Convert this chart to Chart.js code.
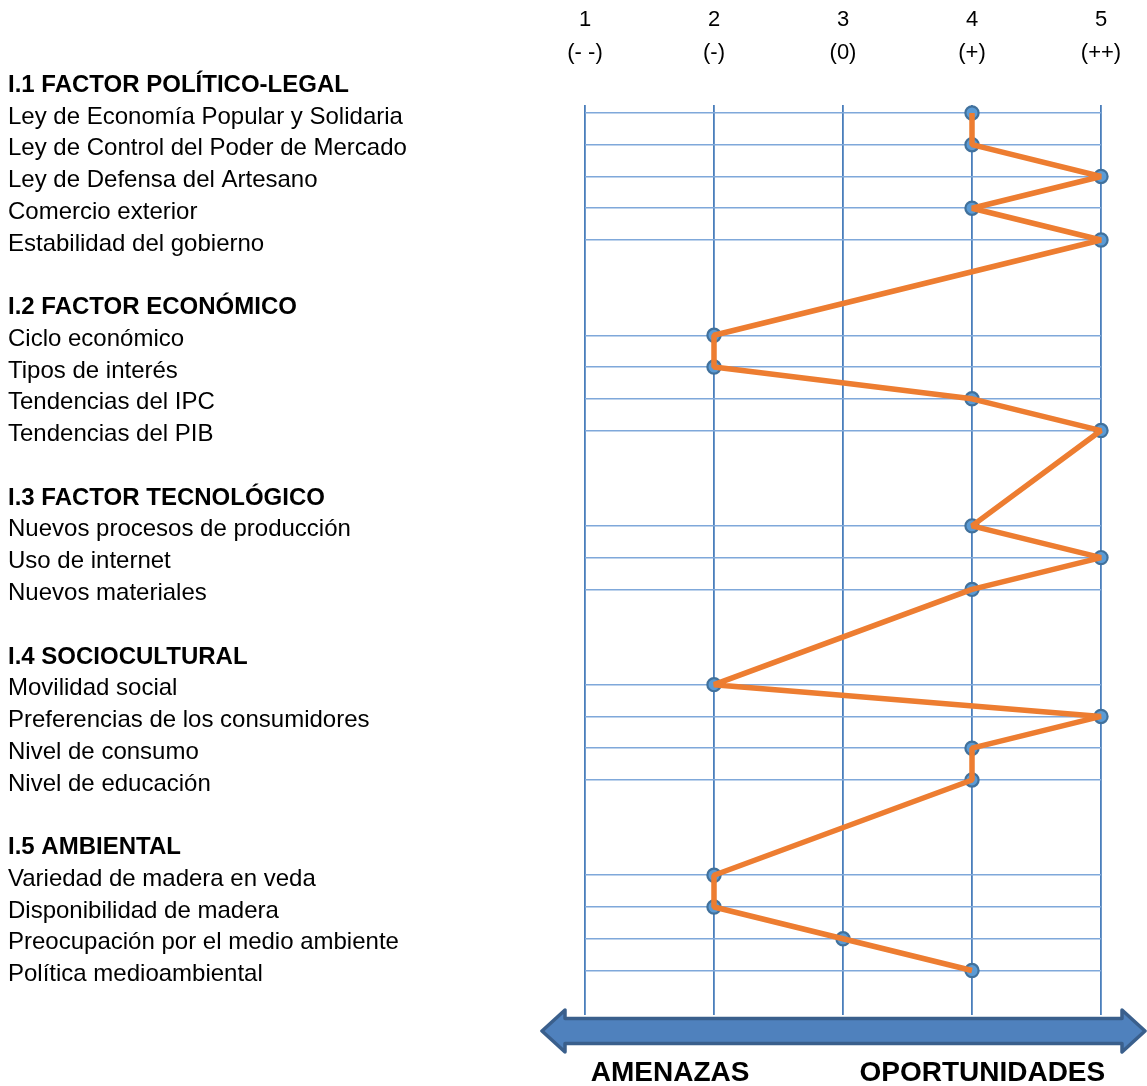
<!DOCTYPE html>
<html>
<head>
<meta charset="utf-8">
<script src="https://cdn.jsdelivr.net/npm/chart.js@4.4.0/dist/chart.umd.min.js"></script>
<style>
  html, body { margin: 0; padding: 0; background: #ffffff; }
  #wrap { position: relative; width: 1147px; height: 1086px; }
</style>
</head>
<body>
<div id="wrap"><canvas id="perfil" width="1147" height="1086"></canvas></div>
<script>
// Rating scale shown along the top
const scaleValues = ['1', '2', '3', '4', '5'];
const scaleSigns = ['(- -)', '(-)', '(0)', '(+)', '(++)'];

// Factor groups and their factors
const groupTitles = [
  'I.1 FACTOR POLÍTICO-LEGAL',
  'I.2 FACTOR ECONÓMICO',
  'I.3 FACTOR TECNOLÓGICO',
  'I.4 SOCIOCULTURAL',
  'I.5 AMBIENTAL'
];
const politicoLegal = [
  'Ley de Economía Popular y Solidaria',
  'Ley de Control del Poder de Mercado',
  'Ley de Defensa del Artesano',
  'Comercio exterior',
  'Estabilidad del gobierno'
];
const economico = ['Ciclo económico', 'Tipos de interés', 'Tendencias del IPC', 'Tendencias del PIB'];
const tecnologico = ['Nuevos procesos de producción', 'Uso de internet', 'Nuevos materiales'];
const sociocultural = ['Movilidad social', 'Preferencias de los consumidores', 'Nivel de consumo', 'Nivel de educación'];
const ambiental = ['Variedad de madera en veda', 'Disponibilidad de madera', 'Preocupación por el medio ambiente', 'Política medioambiental'];

// Ratings (1 = muy negativo ... 5 = muy positivo)
const politicoLegalScores = [4, 4, 5, 4, 5];
const economicoScores = [2, 2, 4, 5];
const tecnologicoScores = [4, 5, 4];
const socioculturalScores = [2, 5, 4, 4];
const ambientalScores = [2, 2, 3, 4];

const groupFactors = [politicoLegal, economico, tecnologico, sociocultural, ambiental];
const groupScores = [politicoLegalScores, economicoScores, tecnologicoScores, socioculturalScores, ambientalScores];

// Build the row list: header, factors, blank spacer between groups
const rows = [];
const points = [];
groupTitles.forEach((title, g) => {
  rows.push({ label: title, kind: 'header' });
  groupFactors[g].forEach((name, i) => {
    points.push({ x: groupScores[g][i], y: rows.length });
    rows.push({ label: name, kind: 'item' });
  });
  if (g < groupTitles.length - 1) rows.push({ label: '', kind: 'blank' });
});

const FONT = '"Liberation Sans", Arial, sans-serif';
const rowKind = (c) => (c.tick && rows[c.tick.value]) ? rows[c.tick.value].kind : 'none';

// Double-headed arrow with AMENAZAS / OPORTUNIDADES under the plot
const arrowPlugin = {
  id: 'scaleArrow',
  afterDraw(chart) {
    const { ctx, chartArea: a, width } = chart;
    const cy = a.bottom + 16;
    const x0 = a.left - 43;
    const x1 = width - 2;
    const headLen = 23, headH = 21, shaftH = 12.5;
    ctx.save();
    ctx.beginPath();
    ctx.moveTo(x0, cy);
    ctx.lineTo(x0 + headLen, cy - headH);
    ctx.lineTo(x0 + headLen, cy - shaftH);
    ctx.lineTo(x1 - headLen, cy - shaftH);
    ctx.lineTo(x1 - headLen, cy - headH);
    ctx.lineTo(x1, cy);
    ctx.lineTo(x1 - headLen, cy + headH);
    ctx.lineTo(x1 - headLen, cy + shaftH);
    ctx.lineTo(x0 + headLen, cy + shaftH);
    ctx.lineTo(x0 + headLen, cy + headH);
    ctx.closePath();
    ctx.fillStyle = '#4F81BD';
    ctx.fill();
    ctx.lineWidth = 3.5;
    ctx.lineJoin = 'round';
    ctx.strokeStyle = '#3A5F8C';
    ctx.stroke();

    const xs = chart.scales.x;
    ctx.fillStyle = '#000000';
    ctx.font = 'bold 28px ' + FONT;
    ctx.textAlign = 'center';
    ctx.textBaseline = 'middle';
    ctx.fillText('AMENAZAS', xs.getPixelForValue(1.66), cy + 42);
    ctx.fillText('OPORTUNIDADES', xs.getPixelForValue(4.08), cy + 42);
    ctx.restore();
  }
};

new Chart(document.getElementById('perfil'), {
  type: 'scatter',
  data: {
    datasets: [
      {
        label: 'Perfil',
        data: points,
        showLine: true,
        borderColor: '#ED7D31',
        borderWidth: 5.5,
        borderJoinStyle: 'bevel',
        pointRadius: 0,
        pointHoverRadius: 0,
        tension: 0,
        clip: false,
        order: 0
      },
      {
        label: 'Valoración',
        data: points,
        showLine: false,
        pointRadius: 6.6,
        pointBackgroundColor: '#5B9BD5',
        pointBorderColor: '#41719C',
        pointBorderWidth: 2.2,
        clip: false,
        order: 1
      }
    ]
  },
  options: {
    responsive: false,
    animation: false,
    layout: { padding: { left: 8, right: 46, top: 0, bottom: 71 } },
    plugins: {
      legend: { display: false },
      tooltip: { enabled: false }
    },
    scales: {
      x: {
        type: 'linear',
        position: 'top',
        min: 1,
        max: 5,
        afterFit: (s) => { s.height = 105; },
        grid: {
          color: '#4A7EBB',
          lineWidth: 1.8,
          drawTicks: true,
          tickLength: 30,
          tickColor: 'rgba(0,0,0,0)'
        },
        border: { display: false },
        ticks: {
          stepSize: 1,
          autoSkip: false,
          maxRotation: 0,
          padding: 5.5,
          color: '#000000',
          font: { family: FONT, size: 22, lineHeight: 1.5 },
          callback: (v) => [scaleValues[v - 1], scaleSigns[v - 1]]
        }
      },
      y: {
        type: 'linear',
        reverse: true,
        min: 0.75,
        max: 29.4,
        afterBuildTicks: (s) => { s.ticks = rows.map((r, i) => ({ value: i })); },
        afterFit: (s) => { s.width = 577; },
        grid: {
          drawTicks: false,
          lineWidth: 1.5,
          color: (c) => rowKind(c) === 'item' ? '#7FA8DA' : 'rgba(0,0,0,0)'
        },
        border: { display: false },
        ticks: {
          autoSkip: false,
          crossAlign: 'far',
          padding: 0,
          labelOffset: 4,
          color: '#000000',
          font: (c) => ({
            family: FONT,
            size: 24,
            weight: rowKind(c) === 'header' ? 'bold' : 'normal'
          }),
          callback: (v) => (rows[v] ? rows[v].label : '')
        }
      }
    }
  },
  plugins: [arrowPlugin]
});
</script>
</body>
</html>
